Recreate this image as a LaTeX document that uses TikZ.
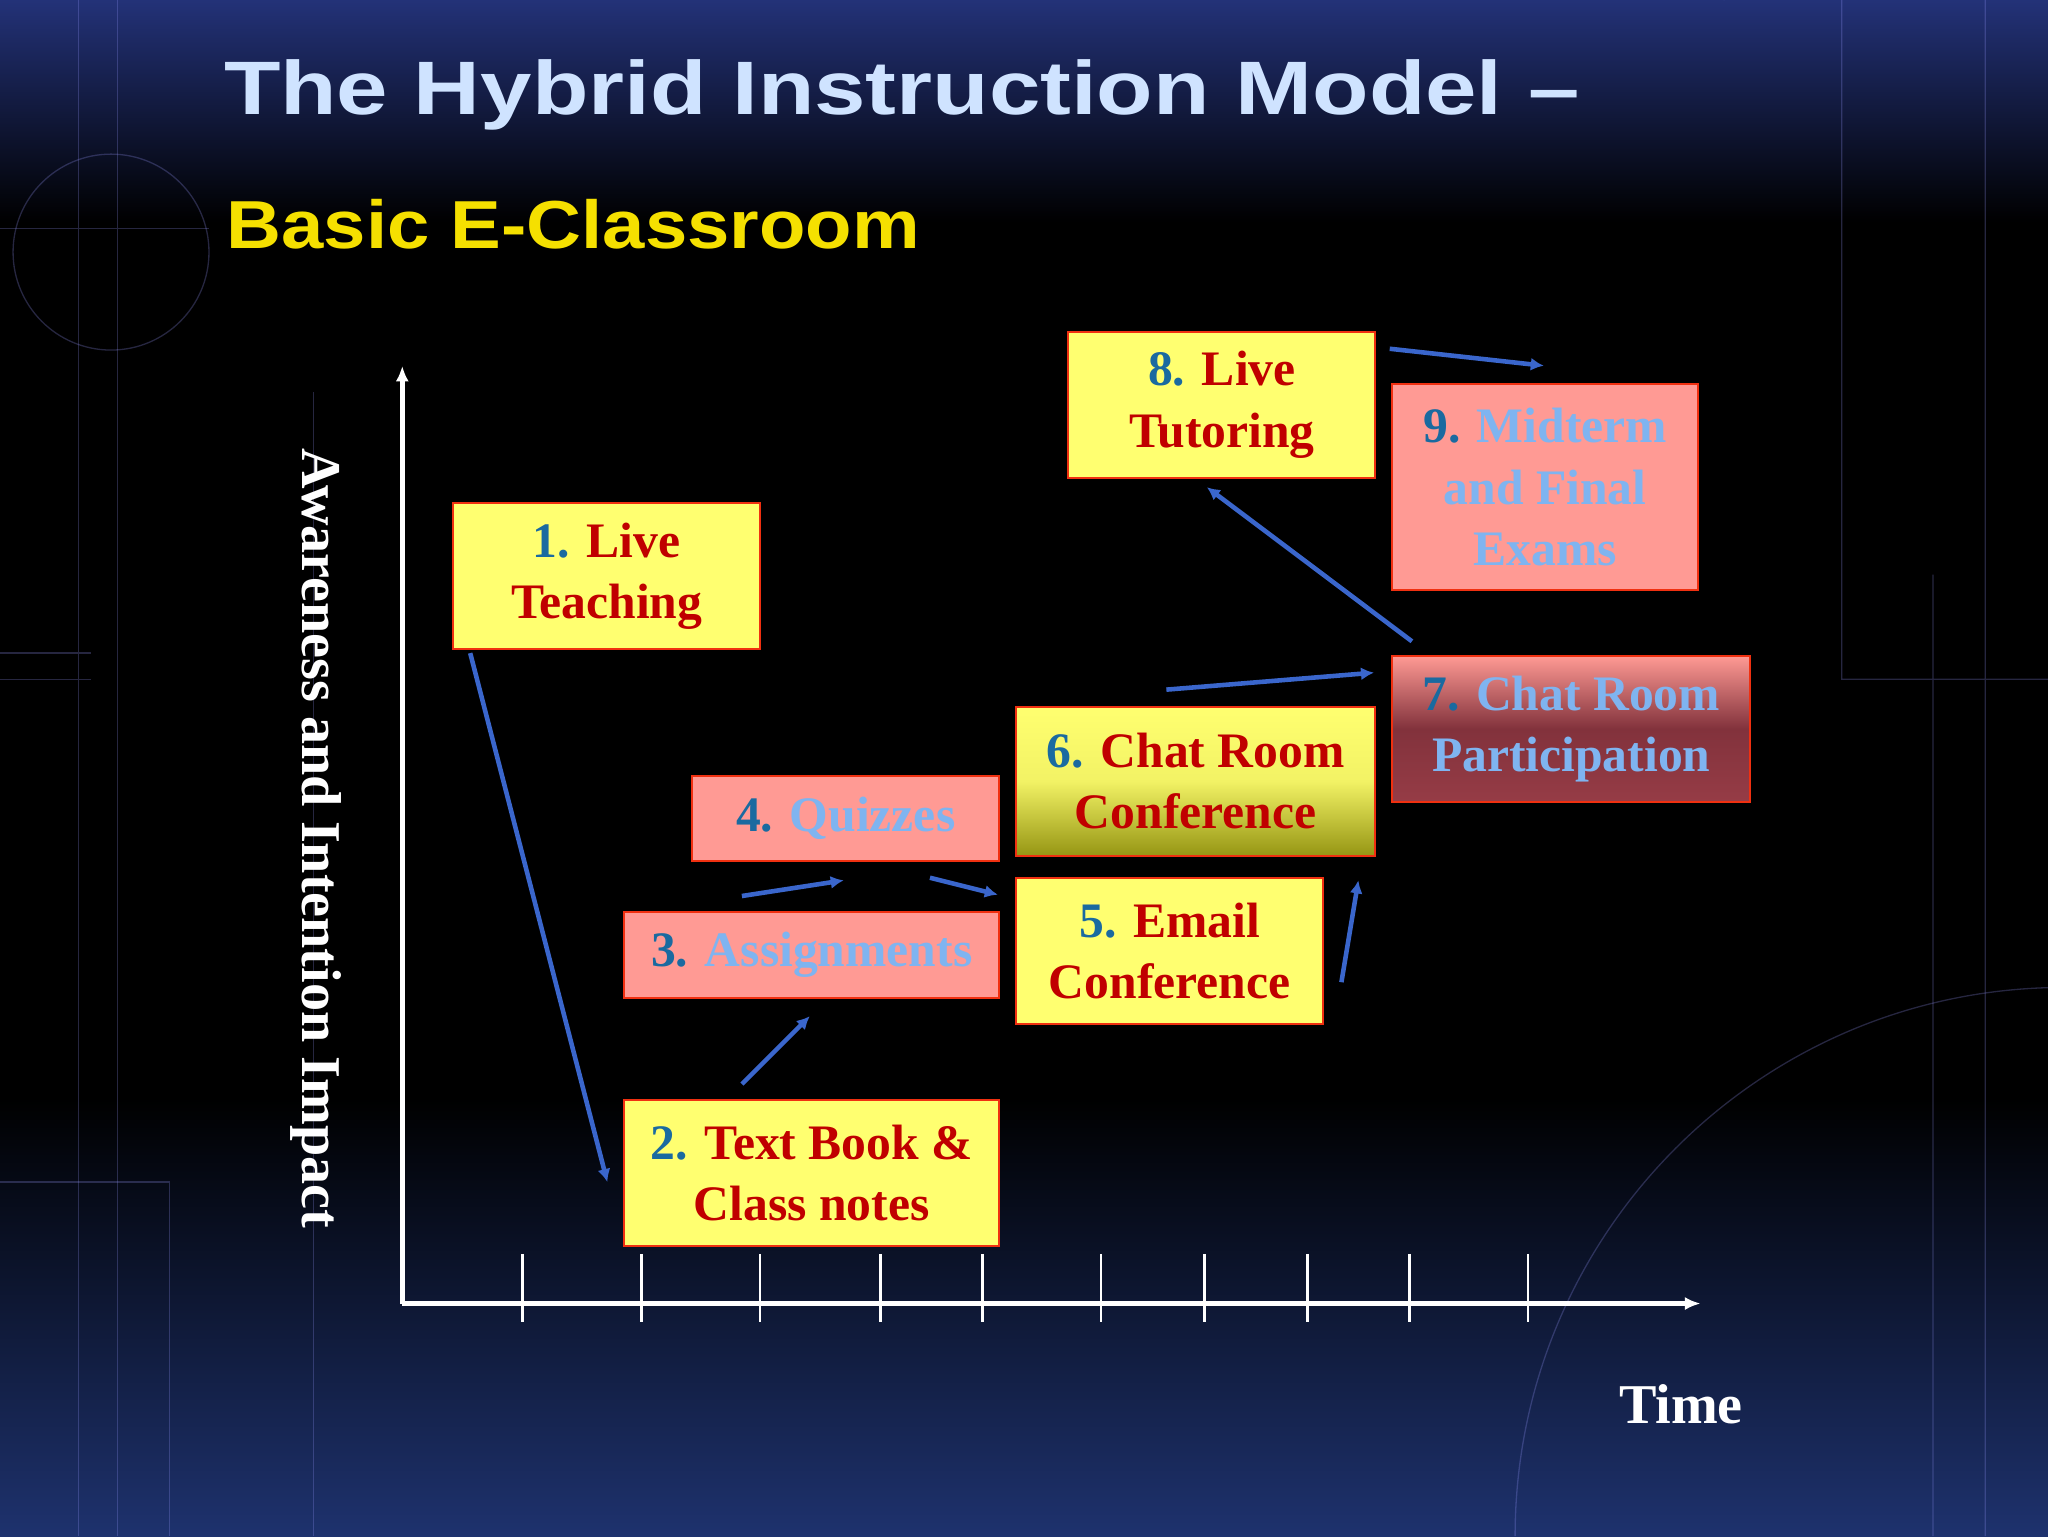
\documentclass[tikz,border=0pt]{standalone}
\usepackage{fontspec}
\setmainfont{Liberation Serif}
\newfontfamily\titlefont{Liberation Sans}
\usetikzlibrary{arrows.meta}
\definecolor{ttl}{HTML}{CFE3FF}
\definecolor{sub}{HTML}{F5E000}
\definecolor{yel}{HTML}{FFFF70}
\definecolor{pnk}{HTML}{FF9A94}
\definecolor{brd}{HTML}{F03010}
\definecolor{num}{HTML}{1A6AA0}
\definecolor{rtx}{HTML}{C00000}
\definecolor{ltx}{HTML}{7FB4F0}
\definecolor{arr}{HTML}{3A66CC}
\tikzset{
 bx/.style={draw=brd,line width=1.5pt,align=center,inner sep=0pt,font=\bfseries\fontsize{38}{47}\selectfont},
 yb/.style={bx,fill=yel,text=rtx},
 pb/.style={bx,fill=pnk,text=ltx},
 ar/.style={draw=arr,line width=3.5pt,-{Latex[length=10pt,width=10pt]}},
 grid/.style={draw=white!60!blue,opacity=0.25,line width=1pt}
}
\begin{document}
\begin{tikzpicture}[x=1pt,y=-1pt]
\useasboundingbox (0,0) rectangle (1568,1176);
\shade[top color={rgb,255:red,35;green,50;blue,120}, bottom color=black] (0,0) rectangle (1568,170);
\fill[black] (0,170) rectangle (1568,840);
\shade[top color=black, bottom color={rgb,255:red,30;green,50;blue,110}] (0,840) rectangle (1568,1176);
% faint decoration
\draw[grid] (85,193) circle (75);
\draw[grid] (0,175) -- (160,175) (60,0) -- (60,1176) (90,0) -- (90,1176) (0,500) -- (70,500) (0,520) -- (70,520);
\draw[grid] (1410,0) -- (1410,520) -- (1568,520) (1480,440) -- (1480,1176) (1520,0) -- (1520,1176) (1320,0) arc (180:270:248);
\draw[grid] (1160,1176) arc (180:270:420 and 420);
\draw[grid] (0,905) -- (130,905) -- (130,1176) (240,300) -- (240,1176);
% title
\node[anchor=west,text=ttl,font=\titlefont\bfseries\fontsize{58}{60}\selectfont] (t1) at (168,73) {\scalebox{1.22}[1]{The Hybrid Instruction Model –}};
\node[anchor=west,text=sub,font=\titlefont\bfseries\fontsize{52}{56}\selectfont] (t2) at (170,172) {\scalebox{1.12}[1]{Basic E-Classroom}};
% axes
\coordinate (o) at (308,998);
\coordinate (ytop) at (308,280);
\coordinate (xend) at (1302,998);
\draw[white,line width=3.5pt,-{Latex[length=12pt,width=10pt]}] (o) -- (ytop);
\draw[white,line width=3.5pt,-{Latex[length=12pt,width=10pt]}] (o) -- (xend);
\foreach \x in {400,491,582,674,752,843,922,1001,1079,1170}
  \draw[white,line width=2pt] (\x,960) -- (\x,1012);
\node[rotate=-90,text=white,font=\bfseries\fontsize{43}{45}\selectfont] (yl) at (242,642) {Awareness and Intention Impact};
\node[text=white,font=\bfseries\fontsize{43}{45}\selectfont] (tl) at (1287,1075) {Time};
% boxes
\node[yb,minimum width=235,minimum height=112] (b1) at (464.5,441) {\textcolor{num}{1.} Live\\Teaching};
\node[yb,minimum width=287,minimum height=112] (b2) at (621.5,898) {\textcolor{num}{2.} Text Book \&\\Class notes};
\node[pb,minimum width=287,minimum height=66] (b3) at (621.5,731) {\textcolor{num}{3.} Assignments};
\node[pb,minimum width=235,minimum height=65] (b4) at (647.5,626.5) {\textcolor{num}{4.} Quizzes};
\node[yb,minimum width=235,minimum height=112] (b5) at (895.5,728) {\textcolor{num}{5.} Email\\Conference};
\node[bx,text=rtx,top color=yel,bottom color={rgb,255:red,150;green,150;blue,20},middle color=yel!90!olive,minimum width=275,minimum height=114] (b6) at (915.5,598) {\textcolor{num}{6.} Chat Room\\Conference};
\node[bx,text=ltx,top color=pnk,bottom color={rgb,255:red,150;green,60;blue,70},middle color={rgb,255:red,130;green,50;blue,60},minimum width=274,minimum height=112] (b7) at (1203,558) {\textcolor{num}{7.} Chat Room\\Participation};
\node[yb,minimum width=235,minimum height=112] (b8) at (935.5,310) {\textcolor{num}{8.} Live\\Tutoring};
\node[pb,minimum width=234,minimum height=158] (b9) at (1183,373) {\textcolor{num}{9.} Midterm\\and Final\\Exams};
% arrows
\coordinate (a1s) at (360,500); \coordinate (a1e) at (465,905);
\coordinate (a2s) at (568,830); \coordinate (a2e) at (620,778);
\coordinate (a3s) at (568,686); \coordinate (a3e) at (646,674);
\coordinate (a4s) at (712,672); \coordinate (a4e) at (764,685);
\coordinate (a5s) at (1027,752); \coordinate (a5e) at (1040,674);
\coordinate (a6s) at (893,528); \coordinate (a6e) at (1052,515);
\coordinate (a7s) at (1081,491); \coordinate (a7e) at (924,373);
\coordinate (a8s) at (1064,267); \coordinate (a8e) at (1182,280);
\foreach \i in {1,...,8} \draw[ar] (a\i s) -- (a\i e);
\end{tikzpicture}
\end{document}
